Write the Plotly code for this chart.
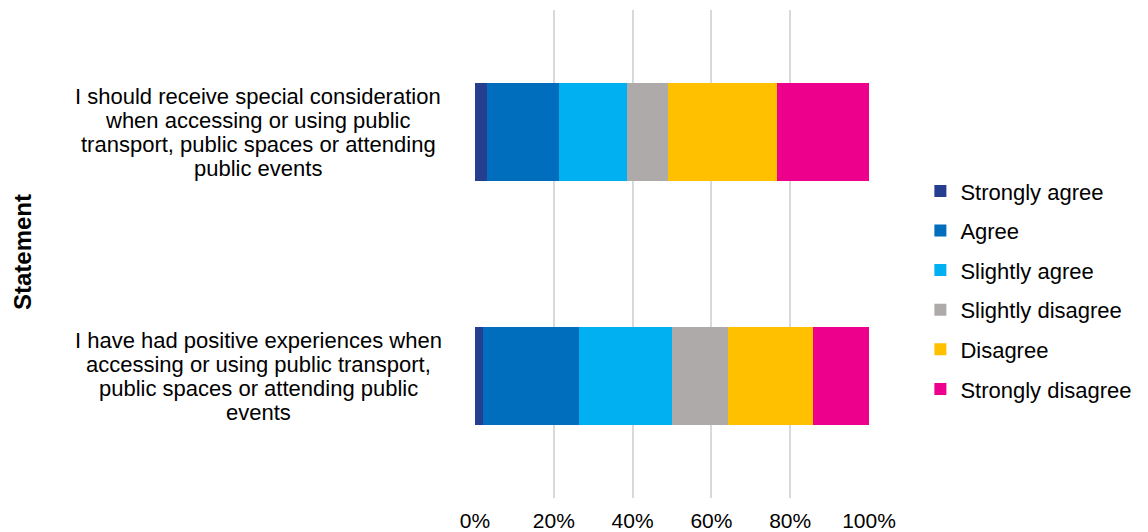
import plotly.graph_objects as go

categories = [
    "I should receive special consideration<br>when accessing or using public<br>transport, public spaces or attending<br>public events",
    "I have had positive experiences when<br>accessing or using public transport,<br>public spaces or attending public<br>events",
]
series_names = ["Strongly agree", "Agree", "Slightly agree", "Slightly disagree", "Disagree", "Strongly disagree"]
strongly_agree = [3.0, 2.0]
agree = [18.4, 24.4]
slightly_agree = [17.2, 23.6]
slightly_disagree = [10.4, 14.3]
disagree = [27.6, 21.5]
strongly_disagree = [23.4, 14.2]
tick_vals = [0, 20, 40, 60, 80, 100]
tick_text = ["0%", "20%", "40%", "60%", "80%", "100%"]
axis_title = "Statement"

colors = ["#253E8F", "#006EBD", "#00B0F0", "#AEAAAA", "#FFC000", "#EC008C"]
values = [strongly_agree, agree, slightly_agree, slightly_disagree, disagree, strongly_disagree]

FONT = "Liberation Sans, Arial, Helvetica, sans-serif"

fig = go.Figure()
for i, (name, vals, col) in enumerate(zip(series_names, values, colors)):
    fig.add_trace(go.Bar(
        y=list(range(len(categories))), x=vals, name=name, orientation="h",
        marker=dict(color=col, line=dict(width=0)),
        legendgroup=f"g{i}", hoverinfo="x+name",
    ))

# category labels: centred multi-line text, one annotation per line
LINE_H = 24
for i, cat in enumerate(categories):
    lines = cat.split("<br>")
    n = len(lines)
    for k, line in enumerate(lines):
        fig.add_annotation(
            x=0, y=i, xref="paper", yref="y", text=line, showarrow=False,
            xanchor="center", yanchor="middle", xshift=-217,
            yshift=-(k - (n - 1) / 2) * LINE_H,
            font=dict(family=FONT, size=22, color="#000000"),
        )

fig.add_annotation(
    x=0, y=0.5, xref="paper", yref="paper", text=f"<b>{axis_title}</b>", showarrow=False,
    textangle=-90, xanchor="center", yanchor="middle", xshift=-453, yshift=2,
    font=dict(family=FONT, size=24, color="#000000"),
)

fig.update_layout(
    width=1148, height=532,
    barmode="stack", bargap=0.6,
    paper_bgcolor="white", plot_bgcolor="white",
    margin=dict(l=467, r=287, t=2, b=42),
    font=dict(family=FONT, size=20, color="#000000"),
    showlegend=True,
    legend=dict(
        x=1.1304, xanchor="left", y=0.426, yanchor="middle",
        traceorder="grouped", tracegroupgap=8,
        font=dict(family=FONT, size=22, color="#000000"),
        itemwidth=30, bgcolor="rgba(0,0,0,0)",
    ),
    xaxis=dict(
        range=[0, 100], tickvals=tick_vals, ticktext=tick_text,
        showgrid=True, gridcolor="#D9D9D9", gridwidth=1.5,
        zeroline=False, showline=False, ticks="",
        tickfont=dict(family=FONT, size=21, color="#000000"),
        ticklabelstandoff=8,
        fixedrange=True,
    ),
    yaxis=dict(
        range=[len(categories) - 0.5, -0.5],
        showticklabels=False, showgrid=False, zeroline=False, showline=False,
        fixedrange=True,
    ),
)

fig.write_html("out.html")
